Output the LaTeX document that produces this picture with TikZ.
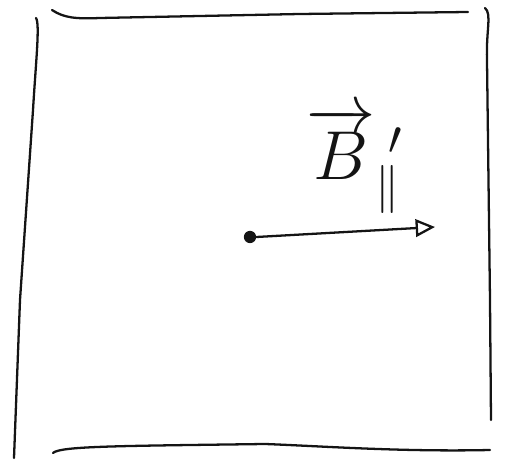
\documentclass[tikz,border=0pt]{standalone}
\usepackage{amsmath,amssymb}
\usetikzlibrary{arrows.meta}
\definecolor{sketchink}{RGB}{20,20,20}

\begin{document}
\begin{tikzpicture}[x=0.02cm,y=-0.02cm,
  pen/.style={sketchink,line width=1.3pt,line cap=round,line join=round}]
  \useasboundingbox (0,0) rectangle (508,476);
  % frame
  \draw[pen] (52,10) .. controls (64,18) and (76,19) .. (100,18) -- (300,14) -- (468,12);
  \draw[pen] (36,18) .. controls (40,24) and (36,60) .. (33,110) -- (20,300) -- (14,458);
  \draw[pen] (485,8) .. controls (492,14) and (486,30) .. (487,60) -- (490,300) -- (491,420);
  \draw[pen] (53,453) .. controls (60,446) and (120,446) .. (265,444)
    .. controls (320,446) and (400,452) .. (490,450);
  % point and field vector
  \node[circle,fill=sketchink,inner sep=0pt,minimum size=7pt] (pt) at (250,237) {};
  \coordinate (tip) at (435,227);
  \draw[pen,-{Triangle[open,length=11pt,width=10pt]}] (pt.east) -- (tip);
  \node[sketchink,font=\huge] (lbl) at (355,160)
    {\scalebox{1.9}{$\overrightarrow{B}{}^{\;\prime}_{\parallel}$}};
\end{tikzpicture}
\end{document}
